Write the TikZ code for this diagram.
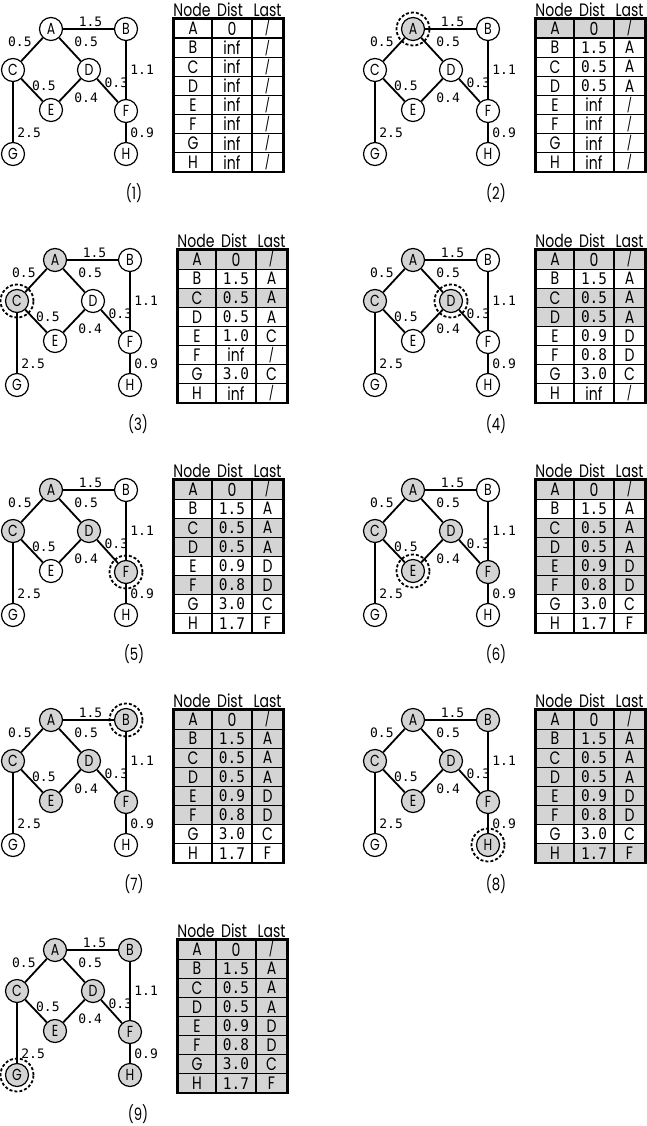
\documentclass[tikz,border=0pt]{standalone}
\usepackage{fontspec}
\newfontfamily\lfont[FakeStretch=0.78]{Poppins}
\newfontfamily\wfont{DejaVu Sans Mono}
\newfontfamily\nfont[FakeStretch=0.9]{DejaVu Sans Mono}
\colorlet{seen}{black!17}

\begin{document}
\begin{tikzpicture}[x=1pt,y=-1pt,
  vtx/.style={circle,draw,line width=1.2pt,minimum size=23pt,inner sep=0pt,font=\lfont\fontsize{16}{16}\selectfont},
  ring/.style={circle,draw,dash pattern=on 3pt off 2pt,line width=1.8pt,minimum size=33pt,inner sep=0pt},
  edge/.style={line width=1.8pt},
  wlab/.style={font=\wfont\fontsize{13}{13}\selectfont,inner sep=1.5pt},
  cell/.style={draw,line width=1.2pt,minimum height=19.1pt,inner sep=0pt,font=\lfont\fontsize{18}{18}\selectfont},
  head/.style={font=\lfont\fontsize{18}{18}\selectfont,inner sep=0pt},
  steplab/.style={font=\lfont\fontsize{17}{17}\selectfont}]
  \useasboundingbox (0,0) rectangle (647,1126);
  % one panel per step: number / position of A / table rows (Dist/Last)
  \foreach \n/\px/\py/\rows in {
    1/51/29/{0/{/},inf/{/},inf/{/},inf/{/},inf/{/},inf/{/},inf/{/},inf/{/}},
    2/413/29/{0/{/},1.5/A,0.5/A,0.5/A,inf/{/},inf/{/},inf/{/},inf/{/}},
    3/55/260/{0/{/},1.5/A,0.5/A,0.5/A,1.0/C,inf/{/},3.0/C,inf/{/}},
    4/413/260/{0/{/},1.5/A,0.5/A,0.5/A,0.9/D,0.8/D,3.0/C,inf/{/}},
    5/51/490/{0/{/},1.5/A,0.5/A,0.5/A,0.9/D,0.8/D,3.0/C,1.7/F},
    6/413/490/{0/{/},1.5/A,0.5/A,0.5/A,0.9/D,0.8/D,3.0/C,1.7/F},
    7/51/720/{0/{/},1.5/A,0.5/A,0.5/A,0.9/D,0.8/D,3.0/C,1.7/F},
    8/413/720/{0/{/},1.5/A,0.5/A,0.5/A,0.9/D,0.8/D,3.0/C,1.7/F},
    9/55/950/{0/{/},1.5/A,0.5/A,0.5/A,0.9/D,0.8/D,3.0/C,1.7/F}}{
    % vertices, \r = step in which the vertex is taken
    \foreach \v/\dx/\dy/\r in {A/0/0/1,B/75/0/6,C/-38/41/2,D/38/41/3,E/0/81/5,F/75/82/4,G/-38/125/8,H/75/125/7}{
      \ifnum\r<\n \def\fc{seen}\else\def\fc{white}\fi
      \node[vtx,fill=\fc] (p\n\v) at ({\px+\dx},{\py+\dy}) {\v};
      \ifnum\r=\numexpr\n-1\relax \node[ring] (r\n) at (p\n\v) {};\fi
    }
    \foreach \a/\b/\w/\p/\s in {A/B/1.5/.5/south,A/C/0.5/.5/south east,A/D/0.5/.5/south west,
        C/E/0.5/.3/west,D/E/0.4/.5/north west,D/F/0.3/.15/west,B/F/1.1/.5/west,C/G/2.5/.85/west,F/H/0.9/.5/west}
      \draw[edge] (p\n\a) -- (p\n\b) node[wlab,pos=\p,anchor=\s,xshift=2pt] (w\n\a\b) {\w};
    % table
    \node[head] (h\n a) at ({\px+141},{\py-19}) {Node};
    \node[head] (h\n b) at ({\px+179},{\py-19}) {Dist};
    \node[head] (h\n c) at ({\px+216.5},{\py-19}) {Last};
    \foreach \d/\l [count=\k] in \rows{
      \pgfmathtruncatemacro\r{{1,6,2,3,5,4,8,7}[\k-1]}
      \ifnum\r<\n \def\fc{seen}\else\def\fc{white}\fi
      \ifnum\strcmp{\d}{inf}=0 \def\df{}\else\ifnum\strcmp{\d}{0}=0 \def\df{}\else\def\df{\nfont\fontsize{16}{16}\selectfont}\fi\fi
      \ifnum\strcmp{\l}{/}=0 \def\lf{\fontsize{14}{14}\selectfont}\else\def\lf{}\fi
      \node[cell,fill=\fc,minimum width=38pt] (t\n\k a) at ({\px+142},{\py-10+(\k-.5)*19.1}) {\ifcase\k\or A\or B\or C\or D\or E\or F\or G\or H\fi};
      \node[cell,fill=\fc,minimum width=40pt] (t\n\k b) at ({\px+181},{\py-10+(\k-.5)*19.1}) {\df\d};
      \node[cell,fill=\fc,minimum width=31pt] (t\n\k c) at ({\px+216.5},{\py-10+(\k-.5)*19.1}) {\lf\l};
    }
    \draw[line width=2pt] (t\n1a.north west) rectangle (t\n8c.south east);
    \node[steplab] (c\n) at ({\px+83},{\py+164}) {(\n)};
  }
\end{tikzpicture}
\end{document}
